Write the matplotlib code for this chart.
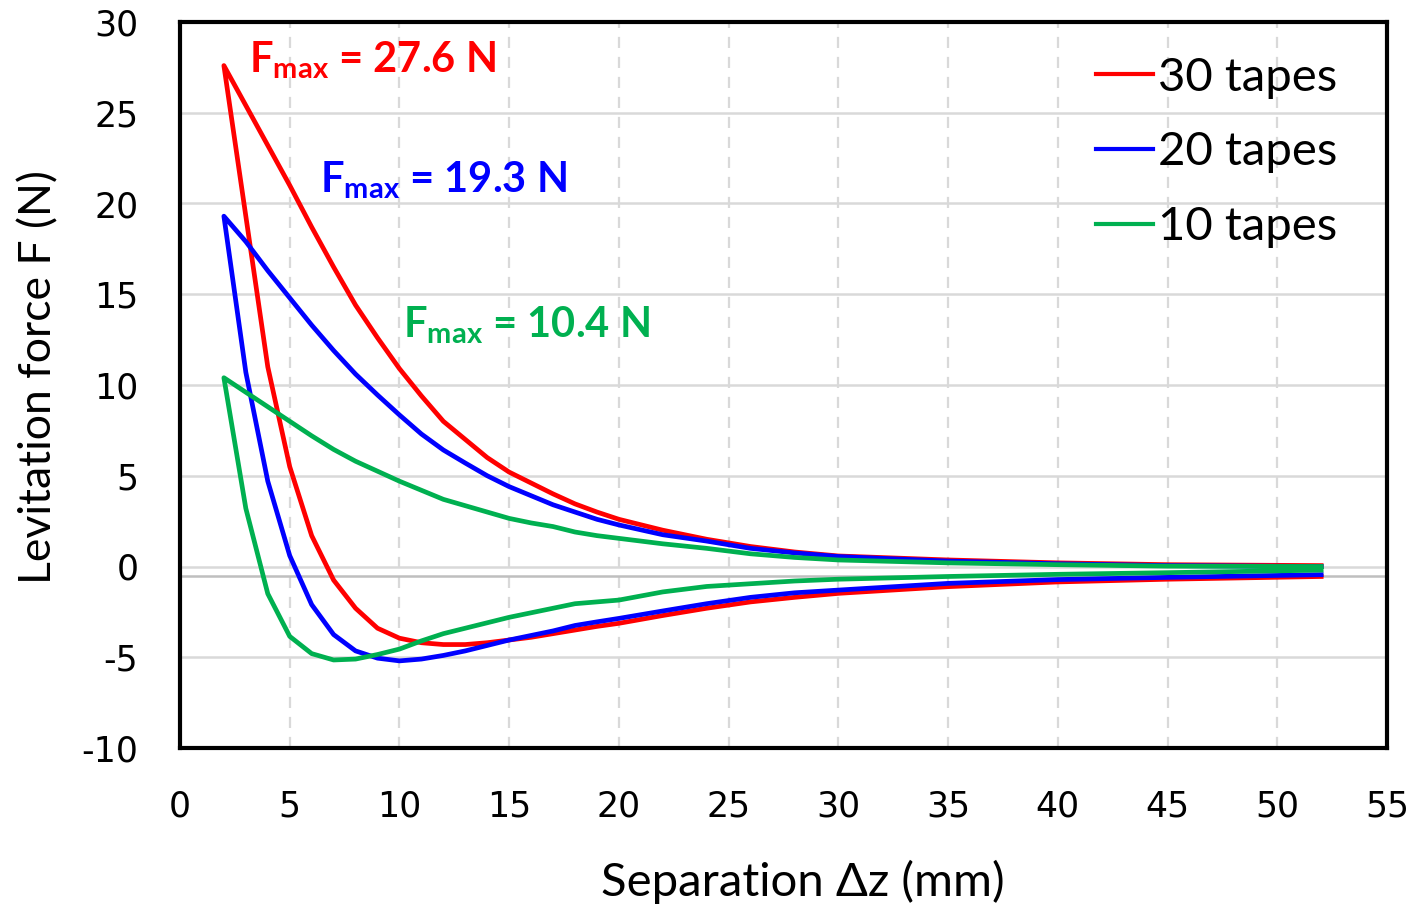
import matplotlib
matplotlib.use("Agg")
import matplotlib.pyplot as plt

# ---------------- data ----------------
sep_mm = [2, 3, 4, 5, 6, 7, 8, 9, 10, 11, 12, 13, 14, 15, 16, 17, 18, 19, 20,
          22, 24, 26, 28, 30, 35, 40, 45, 52]

# upper branches (separating, force decreasing from Fmax)
red_upper = [27.6, 25.4, 23.2, 21.0, 18.7, 16.5, 14.4, 12.6, 10.9, 9.4, 8.0, 7.0, 6.0, 5.2,
             4.6, 4.0, 3.45, 3.0, 2.6, 2.0, 1.5, 1.1, 0.8, 0.58, 0.36, 0.2, 0.1, 0.05]
blue_upper = [19.3, 17.9, 16.3, 14.8, 13.3, 11.9, 10.6, 9.45, 8.35, 7.3, 6.42, 5.7, 5.0, 4.4,
              3.9, 3.4, 3.0, 2.6, 2.29, 1.75, 1.4, 1.0, 0.75, 0.55, 0.3, 0.15, 0.05, 0.0]
green_upper = [10.4, 9.6, 8.8, 8.0, 7.2, 6.45, 5.8, 5.25, 4.7, 4.2, 3.7, 3.35, 3.0, 2.65,
               2.4, 2.2, 1.9, 1.7, 1.55, 1.25, 1.0, 0.7, 0.5, 0.36, 0.2, 0.1, 0.02, 0.0]

# lower branches (force dropping from Fmax, through minimum, back towards 0)
red_lower = [27.6, 19.3, 11.0, 5.5, 1.7, -0.75, -2.3, -3.4, -3.95, -4.2, -4.3, -4.3, -4.2, -4.05,
             -3.9, -3.7, -3.5, -3.3, -3.13, -2.7, -2.3, -1.95, -1.7, -1.48, -1.11, -0.85, -0.7, -0.55]
blue_lower = [19.3, 10.7, 4.7, 0.6, -2.1, -3.75, -4.65, -5.05, -5.2, -5.1, -4.9, -4.65, -4.35, -4.05,
              -3.8, -3.55, -3.25, -3.05, -2.86, -2.45, -2.05, -1.7, -1.45, -1.3, -0.93, -0.72, -0.6, -0.45]
green_lower = [10.4, 3.2, -1.5, -3.85, -4.8, -5.15, -5.1, -4.85, -4.55, -4.1, -3.7, -3.4, -3.1, -2.8,
               -2.55, -2.3, -2.05, -1.95, -1.85, -1.4, -1.1, -0.95, -0.8, -0.7, -0.55, -0.43, -0.34, -0.2]

series_labels = ["30 tapes", "20 tapes", "10 tapes"]
series_colors = ["#FF0000", "#0000FF", "#00B050"]
fmax_values = [27.6, 19.3, 10.4]
fmax_pos = [(3.15, 27.25), (6.4, 20.6), (10.15, 12.6)]

x_ticks = list(range(0, 60, 5))
y_ticks = list(range(-10, 35, 5))

# ---------------- figure ----------------
plt.rcParams["mathtext.fontset"] = "custom"
plt.rcParams["mathtext.rm"] = "Lato"
plt.rcParams["mathtext.bf"] = "Lato:bold"
plt.rcParams["axes.unicode_minus"] = False

fig = plt.figure(figsize=(14.1, 9.06), dpi=100)
ax = fig.add_axes([180 / 1410, 158 / 906, (1387 - 180) / 1410, (748 - 22) / 906])

ax.set_xlim(0, 55)
ax.set_ylim(-10, 30)

# grid
for yv in y_ticks:
    ax.axhline(yv, color="#d9d9d9", lw=1.8, zorder=0)
for xv in x_ticks[1:-1]:
    ax.axvline(xv, color="#d9d9d9", lw=1.6, ls=(0, (5, 4)), zorder=0)
ax.axhline(-0.55, color="#bfbfbf", lw=1.8, zorder=0.5)

uppers = [red_upper, blue_upper, green_upper]
lowers = [red_lower, blue_lower, green_lower]
for up, lo, col, lab in zip(uppers, lowers, series_colors, series_labels):
    xs = sep_mm[::-1] + sep_mm
    ys = up[::-1] + lo
    ax.plot(xs, ys, color=col, lw=3.4, label=lab, solid_joinstyle="round", zorder=3)

for val, (tx, ty), col in zip(fmax_values, fmax_pos, series_colors):
    ax.text(tx, ty, r"$\mathbf{F_{max}}$" + f" = {val} N", color=col, fontsize=30,
            fontweight="bold", family="Lato", va="baseline", ha="left", zorder=4)

ax.set_xticks(x_ticks)
ax.set_yticks(y_ticks)
ax.tick_params(length=0, labelsize=25)
ax.tick_params(axis="x", pad=30)
ax.tick_params(axis="y", pad=30)
for lbl in ax.get_xticklabels() + ax.get_yticklabels():
    lbl.set_family("DejaVu Sans")

for sp in ax.spines.values():
    sp.set_linewidth(3)
    sp.set_color("black")

ax.set_xlabel("Separation Δz (mm)", fontsize=34, family="Lato")
ax.xaxis.set_label_coords(0.516, -0.185)
ax.xaxis.label.set_va("center")
ax.set_ylabel("Levitation force F (N)", fontsize=32, family="Lato")
ax.yaxis.set_label_coords(-0.117, 0.511)
ax.yaxis.label.set_va("center")

leg = ax.legend(loc="upper right", bbox_to_anchor=(0.994, 1.0105), frameon=False,
                handlelength=1.2, handletextpad=0.1, labelspacing=0.69,
                prop={"family": "Lato", "size": 34})
for h in leg.get_lines():
    h.set_linewidth(3)

fig.savefig("out.png", dpi=100)
